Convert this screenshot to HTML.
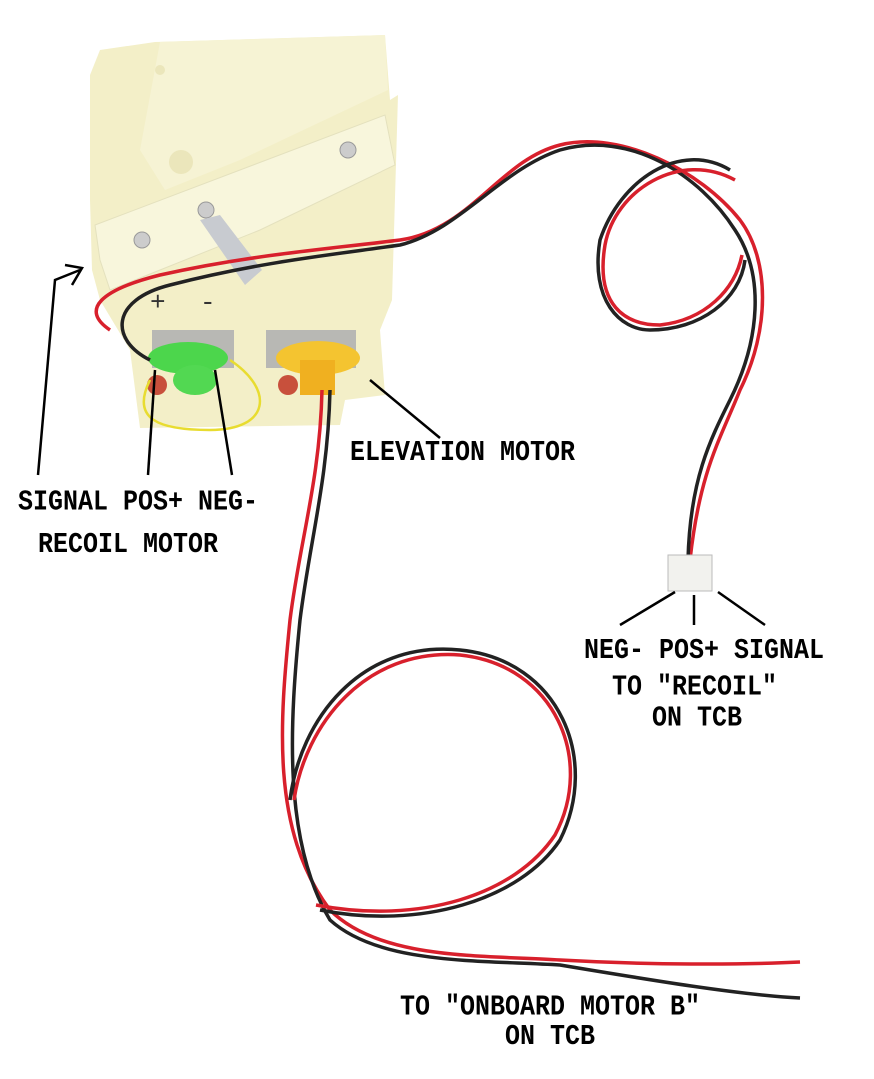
<!DOCTYPE html>
<html><head><meta charset="utf-8"><style>
html,body{margin:0;padding:0;background:#fff}
svg{display:block}
text{font-family:"Liberation Mono",monospace;font-weight:bold;font-size:25px;fill:#000}
</style></head><body>
<svg width="874" height="1079" viewBox="0 0 874 1079" xmlns="http://www.w3.org/2000/svg">
<rect width="874" height="1079" fill="#fff"/>
<!-- block body -->
<polygon points="90,75 100,50 155,42 385,35 390,100 398,95 392,300 380,330 385,395 345,400 340,425 140,428 130,350 100,300 92,270 90,200" fill="#f3efc8"/>
<polygon points="160,42 385,35 388,90 240,160 165,190 140,150" fill="#f6f3d4"/>
<polygon points="95,225 385,115 395,165 260,230 160,270 110,290 100,260" fill="#f8f6dc" stroke="#e4e1be" stroke-width="1"/>
<circle cx="181" cy="162" r="12" fill="#ebe6bb"/>
<circle cx="160" cy="70" r="5" fill="#ebe6bb"/>
<circle cx="348" cy="150" r="8" fill="#ccc" stroke="#999"/>
<circle cx="206" cy="210" r="8" fill="#ccc" stroke="#999"/>
<circle cx="142" cy="240" r="8" fill="#ccc" stroke="#999"/>
<polygon points="200,220 220,215 262,270 245,285" fill="#c8cbd0"/>
<!-- motors -->
<rect x="152" y="330" width="82" height="38" fill="#b8b8b4"/>
<rect x="266" y="330" width="90" height="38" fill="#b8b8b4"/>
<ellipse cx="188" cy="358" rx="40" ry="16" fill="#4cd64c"/>
<ellipse cx="195" cy="380" rx="22" ry="15" fill="#52d852"/>
<ellipse cx="318" cy="358" rx="42" ry="17" fill="#f4c430"/>
<rect x="300" y="360" width="35" height="35" fill="#f0b020"/>
<circle cx="157" cy="385" r="10" fill="#c8503c"/>
<circle cx="288" cy="385" r="10" fill="#c8503c"/>
<path d="M150,380 C130,420 160,430 210,430 C270,430 275,390 230,360" fill="none" stroke="#e8dc30" stroke-width="2.5"/>
<text x="150" y="310" style="font-size:26px;font-weight:normal;fill:#333">+</text>
<text x="200" y="310" style="font-size:26px;font-weight:normal;fill:#333">-</text>
<!-- twisted pair to connector -->
<g fill="none" stroke-width="3.5">
<path d="M110,330 C80,310 100,290 160,275 C250,255 320,250 400,240 C470,230 500,160 560,145 C620,130 700,170 740,220 C770,260 770,330 740,390 C720,440 700,470 690,560" stroke="#d8202c"/>
<path d="M150,360 C110,340 110,300 170,285 C260,262 330,255 400,245 C460,230 500,170 560,150 C630,130 700,175 735,230 C765,275 760,340 730,400 C710,440 690,480 688,560" stroke="#222"/>
<path d="M730,170 C680,140 620,180 600,240 C590,300 620,330 650,330 C700,330 740,300 745,260" stroke="#222"/>
<path d="M735,180 C680,150 615,190 605,245 C595,305 625,325 660,325 C705,320 735,290 742,255" stroke="#d8202c"/>
</g>
<!-- connector -->
<rect x="668" y="555" width="44" height="36" fill="#f2f2ee" stroke="#bbb"/>
<!-- long pair -->
<g fill="none" stroke-width="3.5">
<path d="M322,390 C320,480 300,540 290,620 C280,720 270,830 330,910 C380,960 480,955 560,960 C650,965 740,965 800,962" stroke="#d8202c"/>
<path d="M330,390 C328,480 310,540 300,620 C290,720 282,840 330,920 C380,965 480,960 560,965 C650,980 740,995 800,998" stroke="#222"/>
<path d="M320,910 C420,930 520,900 560,840 C600,760 560,660 460,650 C360,640 300,720 290,800" stroke="#222"/>
<path d="M316,905 C420,925 515,895 555,835 C595,760 555,665 460,655 C365,648 305,725 294,800" stroke="#d8202c"/>
</g>
<!-- pointer lines -->
<g stroke="#000" stroke-width="2.5" fill="none">
<path d="M38,475 L55,280 L80,270 M65,265 L82,268 L72,285"/>
<path d="M148,475 L155,370"/>
<path d="M232,475 L215,370"/>
<path d="M440,438 L370,380"/>
<path d="M620,625 L675,592"/>
<path d="M694,625 L694,595"/>
<path d="M765,625 L718,592"/>
</g>
<g transform="scale(1,1.15)">
<text x="18" y="443">SIGNAL POS+ NEG-</text>
<text x="38" y="480">RECOIL MOTOR</text>
<text x="350" y="400">ELEVATION MOTOR</text>
<text x="584" y="572">NEG- POS+ SIGNAL</text>
<text x="612" y="604">TO "RECOIL"</text>
<text x="652" y="631">ON TCB</text>
<text x="400" y="882">TO "ONBOARD MOTOR B"</text>
<text x="505" y="908">ON TCB</text>
</g>
</svg>
</body></html>
